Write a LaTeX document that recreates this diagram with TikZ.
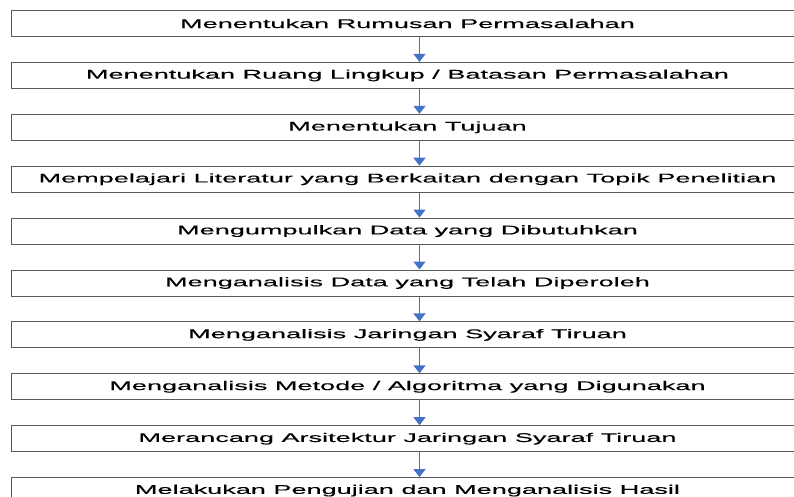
\documentclass[tikz,border=0pt]{standalone}
\usepackage{fontspec}
\usepackage{tikz}
\usetikzlibrary{arrows.meta,positioning}
\usepackage{xcolor}
\newfontfamily\boxfont[FakeStretch=2.15,FakeBold=0.2]{Liberation Sans}
\definecolor{flowblue}{HTML}{4472C4}
\definecolor{edgegray}{HTML}{595959}

\begin{document}
\begin{tikzpicture}[x=1pt, y=-1pt, >={Triangle[width=12pt,length=8pt]},
        node distance=24.9pt,
        stage/.style={rectangle, draw=edgegray, line width=1pt, minimum width=792pt, minimum height=26pt, inner sep=0pt, font=\boxfont\fontsize{12.6pt}{14pt}\selectfont},
        flow/.style={->, line width=1.4pt, flowblue}]

        \clip (0,0) rectangle (794,497);

        \node [stage, anchor=north west] (rumusan) at (11,10) {Menentukan Rumusan Permasalahan};
        \node [stage, below=of rumusan] (batasan) {Menentukan Ruang Lingkup / Batasan Permasalahan};
        \node [stage, below=of batasan] (tujuan) {Menentukan Tujuan};
        \node [stage, below=of tujuan] (literatur) {Mempelajari Literatur yang Berkaitan dengan Topik Penelitian};
        \node [stage, below=of literatur] (data) {Mengumpulkan Data yang Dibutuhkan};
        \node [stage, below=of data] (analisis) {Menganalisis Data yang Telah Diperoleh};
        \node [stage, below=of analisis] (jst) {Menganalisis Jaringan Syaraf Tiruan};
        \node [stage, below=of jst] (metode) {Menganalisis Metode / Algoritma yang Digunakan};
        \node [stage, below=of metode] (arsitektur) {Merancang Arsitektur Jaringan Syaraf Tiruan};
        \node [stage, below=of arsitektur] (pengujian) {Melakukan Pengujian dan Menganalisis Hasil};

        \draw[flow] ([xshift=12pt]rumusan.south) -- ([xshift=12pt]batasan.north);
        \draw[flow] ([xshift=12pt]batasan.south) -- ([xshift=12pt]tujuan.north);
        \draw[flow] ([xshift=12pt]tujuan.south) -- ([xshift=12pt]literatur.north);
        \draw[flow] ([xshift=12pt]literatur.south) -- ([xshift=12pt]data.north);
        \draw[flow] ([xshift=12pt]data.south) -- ([xshift=12pt]analisis.north);
        \draw[flow] ([xshift=12pt]analisis.south) -- ([xshift=12pt]jst.north);
        \draw[flow] ([xshift=12pt]jst.south) -- ([xshift=12pt]metode.north);
        \draw[flow] ([xshift=12pt]metode.south) -- ([xshift=12pt]arsitektur.north);
        \draw[flow] ([xshift=12pt]arsitektur.south) -- ([xshift=12pt]pengujian.north);
    \end{tikzpicture}
\end{document}
